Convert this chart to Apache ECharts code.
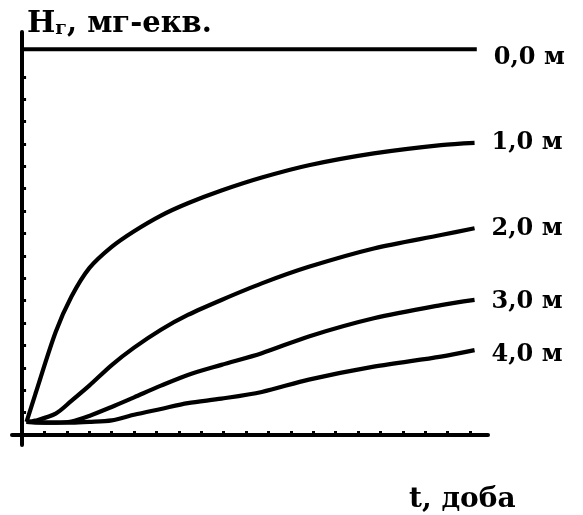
<!DOCTYPE html>
<html>
<head>
<meta charset="utf-8">
<title>Hг(t)</title>
<script src="https://cdn.jsdelivr.net/npm/echarts@6/dist/echarts.min.js"></script>
<style>
  html, body { margin: 0; padding: 0; background: #fff; }
  #chart { width: 583px; height: 515px; }
</style>
</head>
<body>
<div id="chart"></div>
<script>
// Time, in axis tick units (days)
const tDays = [0.2, 0.6, 1.5, 2.2, 3, 4, 5, 6.2, 7.4, 8.9, 10.7, 12.8, 15.7, 18.7, 20.2];

// Hardness Hг at each depth, in axis tick units
const depth0 = [17.23, 17.23, 17.23, 17.23, 17.23, 17.23, 17.23, 17.23, 17.23, 17.23, 17.23, 17.23, 17.23, 17.23, 20.3];
const depth1 = [0.58, 1.85, 4.6, 6.17, 7.45, 8.4, 9.1, 9.8, 10.35, 10.92, 11.5, 12.05, 12.58, 12.95, 13.05];
const depth2 = [0.58, 0.64, 0.95, 1.52, 2.2, 3.12, 3.9, 4.7, 5.36, 6.03, 6.77, 7.51, 8.33, 8.93, 9.23];
const depth3 = [0.58, 0.56, 0.55, 0.6, 0.85, 1.25, 1.68, 2.2, 2.68, 3.13, 3.65, 4.4, 5.21, 5.8, 6.03];
const depth4 = [0.58, 0.56, 0.55, 0.55, 0.58, 0.65, 0.9, 1.16, 1.42, 1.62, 1.92, 2.47, 3.05, 3.5, 3.79];

const seriesNames = ['0,0 м', '1,0 м', '2,0 м', '3,0 м', '4,0 м'];

// Tick marks along both axes
const xTicks = [1, 2, 3, 4, 5, 6, 7, 8, 9, 10, 11, 12, 13, 14, 15, 16, 17, 18, 19, 20];
const yTicks = [1, 2, 3, 4, 5, 6, 7, 8, 9, 10, 11, 12, 13, 14, 15, 16];

const ink = '#000';
const serif = '"DejaVu Serif", "Liberation Serif", serif';

function pairs(values) {
  return values.map((v, i) => [tDays[i], v]);
}

// the surface line is flat: only its two ends are needed
const surfaceLine = [[0, depth0[0]], [depth0[depth0.length - 1], depth0[0]]];

function curve(name, data, labelOffset) {
  return {
    name: name,
    type: 'line',
    data: data,
    smooth: 0.3,
    symbol: 'none',
    lineStyle: { color: ink, width: 4.2 },
    endLabel: {
      show: true,
      formatter: '{a}',
      distance: 17,
      offset: labelOffset || [0, 0],
      color: ink,
      fontFamily: serif,
      fontWeight: 'bold',
      fontSize: 24
    },
    emphasis: { disabled: true }
  };
}

const chart = echarts.init(document.getElementById('chart'), null, { renderer: 'canvas' });

chart.setOption({
  animation: false,
  backgroundColor: '#fff',
  grid: { left: 12, right: 95, top: 32, bottom: 70, containLabel: false },
  title: [
    {
      text: '{h|H}{s|г}{r|, мг-екв.}',
      left: 22,
      top: 4,
      textStyle: {
        rich: {
          h: { fontFamily: serif, fontWeight: 'bold', fontSize: 30, color: ink, verticalAlign: 'bottom' },
          s: { fontFamily: serif, fontWeight: 'bold', fontSize: 19, color: ink, verticalAlign: 'bottom' },
          r: { fontFamily: serif, fontWeight: 'bold', fontSize: 29, color: ink, verticalAlign: 'bottom' }
        }
      }
    },
    {
      text: 't, доба',
      left: 404,
      top: 481,
      textStyle: { fontFamily: serif, fontWeight: 'bold', fontSize: 28, color: ink }
    }
  ],
  xAxis: {
    type: 'value',
    min: -0.45,
    max: 20.8,
    axisLine: { show: true, onZero: true, lineStyle: { color: ink, width: 4 } },
    axisTick: { show: true, inside: true, length: 4, customValues: xTicks, lineStyle: { color: ink, width: 3 } },
    axisLabel: { show: false },
    splitLine: { show: false }
  },
  yAxis: {
    type: 'value',
    min: -0.45,
    max: 18,
    axisLine: { show: true, onZero: true, lineStyle: { color: ink, width: 4 } },
    axisTick: { show: true, inside: true, length: 4, customValues: yTicks, lineStyle: { color: ink, width: 3 } },
    axisLabel: { show: false },
    splitLine: { show: false }
  },
  series: [
    curve(seriesNames[0], surfaceLine, [0, 9]),
    curve(seriesNames[1], pairs(depth1)),
    curve(seriesNames[2], pairs(depth2)),
    curve(seriesNames[3], pairs(depth3), [0, 2]),
    curve(seriesNames[4], pairs(depth4), [0, 5])
  ]
});
</script>
</body>
</html>
